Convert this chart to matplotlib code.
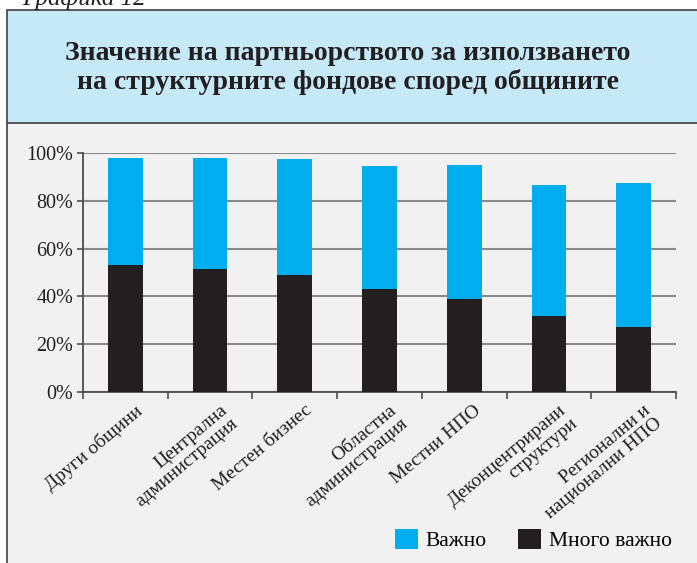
import matplotlib
matplotlib.use("Agg")
import matplotlib.pyplot as plt
from matplotlib.patches import Rectangle, Patch
from matplotlib.lines import Line2D
from matplotlib.transforms import offset_copy
import numpy as np

plt.rcParams['font.family'] = ['Liberation Serif', 'DejaVu Serif']

categories = ["Други общини", "Централна\nадминистрация", "Местен бизнес",
              "Областна\nадминистрация", "Местни НПО",
              "Деконцентрирани\nструктури", "Регионални и\nнационални НПО"]
very_important = [53, 51.5, 49, 43, 39, 32, 27]
important = [45, 46.5, 48.5, 51.5, 56, 54.5, 60.5]
y_ticks = [0, 20, 40, 60, 80, 100]
y_tick_labels = ["0%", "20%", "40%", "60%", "80%", "100%"]
title = "Значение на партньорството за използването\nна структурните фондове според общините"
caption = "Графика 12"

BLUE = "#00aeef"
BLACK = "#231f20"
PANEL = "#f1f1f1"
TITLE_BG = "#c6e9f8"
EDGE = "#4d4d4d"

W, H = 697, 563
fig = plt.figure(figsize=(W / 100, H / 100), dpi=100, facecolor="white")


def fx(px):
    return px / W


def fy(py):
    return 1 - py / H


# panel background and title box
fig.patches.append(Rectangle((fx(7), 0), 1 - fx(7), fy(123), transform=fig.transFigure,
                             facecolor=PANEL, edgecolor="none", zorder=0))
fig.patches.append(Rectangle((fx(7), fy(123)), 1.0, fy(10) - fy(123), transform=fig.transFigure,
                             facecolor=TITLE_BG, edgecolor=EDGE, linewidth=1.3, zorder=1))
fig.lines.append(Line2D([fx(7), fx(7)], [0, fy(123)], transform=fig.transFigure,
                        color=EDGE, linewidth=1.3, zorder=2))

fig.text(fx(22), fy(5), caption, fontsize=18, style="italic", ha="left", va="baseline",
         color="#231f20")
fig.text(fx(348), fy(68), title, fontsize=20, fontweight="bold", ha="center", va="center",
         color="#231f20", linespacing=1.15)

ax = fig.add_axes([fx(83), fy(392), fx(676) - fx(83), fy(153) - fy(392)], zorder=5)
ax.set_facecolor(PANEL)

x = np.arange(len(categories))
width = 0.41
ax.bar(x, very_important, width, color=BLACK, zorder=3, label="Много важно")
ax.bar(x, important, width, bottom=very_important, color=BLUE, zorder=3, label="Важно")

ax.set_xlim(-0.5, len(categories) - 0.5)
ax.set_ylim(0, 100)
ax.set_yticks(y_ticks)
ax.set_yticklabels(y_tick_labels, fontsize=14.5, color="#231f20")
ax.yaxis.grid(True, color="#8a8a8a", linewidth=1.5, zorder=1)
ax.set_axisbelow(True)

ax.set_xticks(np.arange(len(categories) + 1) - 0.5)
ax.set_xticklabels([])
ax.tick_params(axis="x", direction="out", length=5, width=1.2, color=EDGE)
ax.tick_params(axis="y", direction="out", length=4, width=1.2, color=EDGE, pad=3)

for s in ["top", "right"]:
    ax.spines[s].set_visible(False)
for s in ["left", "bottom"]:
    ax.spines[s].set_color(EDGE)
    ax.spines[s].set_linewidth(1.3)

# rotated category labels, right-aligned, anchored just right of each bar centre
label_tr = offset_copy(ax.get_xaxis_transform(), fig=fig, x=6.8, y=-7.0, units="points")
for i, lab in enumerate(categories):
    ax.text(i, 0, lab, transform=label_tr, rotation=40, rotation_mode="anchor",
            ha="right", va="top", fontsize=14, color="#231f20", multialignment="right",
            linespacing=1.0)

handles = [Patch(facecolor=BLUE), Patch(facecolor=BLACK)]
fig.legend(handles, ["Важно", "Много важно"], loc="center right",
           bbox_to_anchor=(fx(691), fy(540)), ncol=2, frameon=False, fontsize=15.5,
           handlelength=1.05, handleheight=1.05, handletextpad=0.37, columnspacing=1.45)

fig.savefig("out.png", dpi=100, facecolor=fig.get_facecolor())
